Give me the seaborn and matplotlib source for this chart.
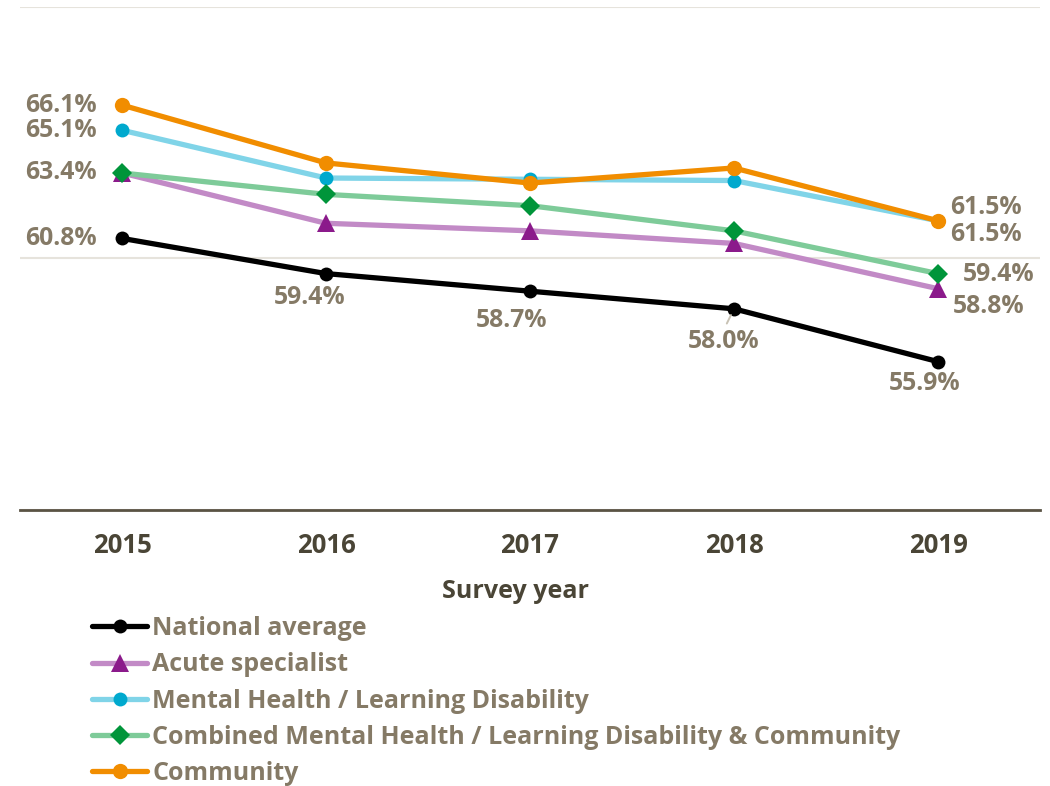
import matplotlib
matplotlib.use("Agg")
import matplotlib.pyplot as plt
import seaborn as sns
import pandas as pd

years = [2015, 2016, 2017, 2018, 2019]
national = [60.8, 59.4, 58.7, 58.0, 55.9]
acute = [63.4, 61.4, 61.1, 60.6, 58.8]
mh_ld = [65.1, 63.2, 63.15, 63.1, 61.5]
combined = [63.4, 62.55, 62.1, 61.1, 59.4]
community = [66.1, 63.8, 63.0, 63.6, 61.5]

series_names = [
    "National average",
    "Acute specialist",
    "Mental Health / Learning Disability",
    "Combined Mental Health / Learning Disability & Community",
    "Community",
]
series_values = [national, acute, mh_ld, combined, community]

# (line colour, marker, marker colour, marker size)
styles = {
    "National average": ("#000000", "o", "#000000", 10),
    "Acute specialist": ("#c28ac6", "^", "#8b1a8b", 13),
    "Mental Health / Learning Disability": ("#80d4e8", "o", "#00a9ce", 10),
    "Combined Mental Health / Learning Disability & Community": ("#7ecb99", "D", "#00953a", 10),
    "Community": ("#f18d00", "o", "#f18d00", 11),
}

df = pd.DataFrame(
    [(n, y, v) for n, vals in zip(series_names, series_values) for y, v in zip(years, vals)],
    columns=["series", "year", "value"],
)

sns.set_theme(style="white")
plt.rcParams["font.family"] = ["Open Sans", "DejaVu Sans"]

label_col = "#857a66"
tick_col = "#4a4536"
px = 0.72  # points per pixel at dpi 100

fig = plt.figure(figsize=(10.5, 7.86), dpi=100)
ax = fig.add_axes([20 / 1050, 1 - 510 / 786, 1020 / 1050, (510 - 7) / 786])

for name in series_names:
    lc, mk, mc, ms = styles[name]
    sub = df[df["series"] == name]
    sns.lineplot(
        data=sub, x="year", y="value", ax=ax, color=lc, linewidth=3.8,
        marker=mk, markersize=ms, markerfacecolor=mc, markeredgecolor=mc,
        markeredgewidth=0, label=name, zorder=3,
    )

ax.set_xlim(2014.5, 2019.5)
ax.set_ylim(50, 70)
ax.set_yticks([50, 60, 70])
ax.set_yticklabels([])
ax.grid(axis="y", color="#e6e3dc", linewidth=1.5)
ax.grid(axis="x", visible=False)
for s in ["left", "right", "top"]:
    ax.spines[s].set_visible(False)
ax.spines["bottom"].set_color("#5a5344")
ax.spines["bottom"].set_linewidth(2)
ax.spines["bottom"].set_zorder(4)
ax.set_xticks(years)
ax.set_xticklabels([str(y) for y in years], fontsize=18.5, fontweight="bold", color=tick_col)
ax.tick_params(axis="x", length=0, pad=16)
ax.tick_params(axis="y", length=0)
ax.set_xlabel("")
ax.set_ylabel("")
ax.get_legend().remove()

fs = 17.8
kw = dict(textcoords="offset points", fontsize=fs, fontweight="bold", color=label_col, va="center")


def lab(x, y, dx, dy, ha="center", **extra):
    ax.annotate(f"{y:.1f}%", (x, y), xytext=(dx * px, -dy * px), ha=ha, zorder=5, **kw, **extra)


# start-year labels
lab(2015, community[0], -25, 0, ha="right")
lab(2015, mh_ld[0], -25, 0, ha="right")
lab(2015, combined[0], -25, 0, ha="right")
lab(2015, national[0], -25, 0, ha="right")

# national average labels beneath points
lab(2016, national[1], -16, 24)
lab(2017, national[2], -18, 29)
lab(2018, national[3], -10, 33,
    arrowprops=dict(arrowstyle="-", color="#c8c2b4", lw=1.4, relpos=(0.5, 1.0),
                    shrinkA=2, shrinkB=5))
lab(2019, national[4], -13, 22)

# end-year labels
lab(2019, community[4], 12, -13, ha="left")
lab(2019, mh_ld[4], 12, 14, ha="left")
lab(2019, combined[4], 25, 1, ha="left")
lab(2019, acute[4], 15, 18, ha="left")

fig.text(516 / 1050, 1 - 592 / 786, "Survey year", ha="center", va="center",
         fontsize=18, fontweight="bold", color=tick_col)

handles, labels = ax.get_legend_handles_labels()
leg = fig.legend(
    handles, labels, loc="upper left", bbox_to_anchor=(92 / 1050, 1 - 616 / 786),
    frameon=False, fontsize=18, handlelength=2.2, handletextpad=0.2,
    labelspacing=0.45, borderpad=0, borderaxespad=0,
)
for t in leg.get_texts():
    t.set_color(label_col)
    t.set_fontweight("bold")

fig.savefig("out.png", dpi=100)
